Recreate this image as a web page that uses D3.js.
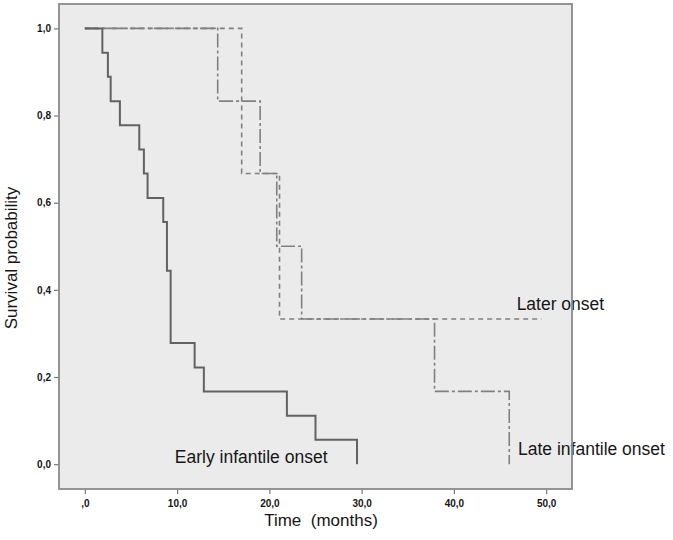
<!DOCTYPE html>
<html>
<head>
<meta charset="utf-8">
<script src="https://cdn.jsdelivr.net/npm/d3@7"></script>
<style>
    body { margin: 0; background: #fff; }
    svg text { font-family: "Liberation Sans", Arial, sans-serif; fill: #161616; }
</style>
</head>
<body>
<div id="chart"></div>
<script>
// Kaplan-Meier steps (time in months, survival probability)
const earlyTimes = [0, 1.9, 2.5, 2.8, 3.8, 5.9, 6.4, 6.8, 8.5, 8.9, 9.3, 11.9, 12.9, 21.9, 25.0, 29.5];
const earlySurv  = [1, 0.944, 0.889, 0.833, 0.778, 0.722, 0.667, 0.611, 0.556, 0.444, 0.278, 0.222, 0.167, 0.111, 0.056, 0];

const lateInfTimes = [0, 14.4, 19.0, 20.8, 23.5, 37.9, 46.0];
const lateInfSurv  = [1, 0.833, 0.667, 0.5, 0.333, 0.167, 0];

const laterTimes = [0, 17.0, 21.1, 49.5];
const laterSurv  = [1, 0.667, 0.333, 0.333];

const xTicks = [0, 10, 20, 30, 40, 50];
const xTickLabels = [",0", "10,0", "20,0", "30,0", "40,0", "50,0"];
const yTicks = [0, 0.2, 0.4, 0.6, 0.8, 1.0];
const yTickLabels = ["0,0", "0,2", "0,4", "0,6", "0,8", "1,0"];

const w = 673, h = 540;
const margin = {top: 4, right: 101, bottom: 51, left: 59};
const width = w - margin.left - margin.right,
      height = h - margin.top - margin.bottom;

function toPairs(times, surv) {
    return times.map((t, i) => [t, surv[i]]);
}

let svg = d3.select("#chart")
    .append("svg")
    .attr("width", w)
    .attr("height", h);

let g = svg.append("g")
    .attr("transform", "translate(" + margin.left + "," + margin.top + ")");

let x = d3.scaleLinear()
    .domain([-2.8, 52.8])
    .range([0, width]);

let y = d3.scaleLinear()
    .domain([-0.057, 1.056])
    .range([height, 0]);

g.append("rect")
    .attr("width", width)
    .attr("height", height)
    .attr("fill", "#ebebeb");

let xAxis = g.append("g")
    .attr("transform", "translate(0," + height + ")")
    .call(d3.axisBottom(x)
        .tickValues(xTicks)
        .tickSize(5)
        .tickPadding(6)
        .tickFormat((d, i) => xTickLabels[i]));

let yAxis = g.append("g")
    .call(d3.axisLeft(y)
        .tickValues(yTicks)
        .tickSize(5)
        .tickPadding(3)
        .tickFormat((d, i) => yTickLabels[i]));

[xAxis, yAxis].forEach(function (a) {
    a.select(".domain").remove();
    a.selectAll(".tick line").attr("stroke", "#777").attr("stroke-width", 1.2);
    a.selectAll(".tick text")
        .style("font-size", "10px")
        .style("font-weight", "bold")
        .attr("fill", "#161616");
});

let line = d3.line()
    .x(d => x(d[0]))
    .y(d => y(d[1]))
    .curve(d3.curveStepAfter);

g.append("path")
    .datum(toPairs(laterTimes, laterSurv))
    .attr("fill", "none")
    .attr("stroke", "#808080")
    .attr("stroke-width", 1.6)
    .style("stroke-dasharray", "5, 4")
    .attr("d", line);

g.append("path")
    .datum(toPairs(lateInfTimes, lateInfSurv))
    .attr("fill", "none")
    .attr("stroke", "#808080")
    .attr("stroke-width", 1.6)
    .style("stroke-dasharray", "14, 3, 3, 3")
    .attr("d", line);

g.append("path")
    .datum(toPairs(earlyTimes, earlySurv))
    .attr("fill", "none")
    .attr("stroke", "#626262")
    .attr("stroke-width", 2)
    .attr("d", line);

// curve labels
g.append("text")
    .attr("x", x(46.8))
    .attr("y", y(0.354))
    .style("font-size", "17.5px")
    .text("Later onset");

g.append("text")
    .attr("x", x(46.95))
    .attr("y", y(0.02))
    .style("font-size", "17.5px")
    .text("Late infantile onset");

g.append("text")
    .attr("x", x(9.75))
    .attr("y", y(0.002))
    .style("font-size", "17.5px")
    .text("Early infantile onset");

g.append("rect")
    .attr("width", width)
    .attr("height", height)
    .attr("fill", "none")
    .attr("stroke", "#8a8a8a")
    .attr("stroke-width", 1.8);

svg.append("text")
    .attr("x", 321)
    .attr("y", 526)
    .attr("text-anchor", "middle")
    .style("font-size", "17px")
    .text("Time  (months)")
    .attr("xml:space", "preserve")
    .style("white-space", "pre");

svg.append("text")
    .attr("transform", "translate(17,258) rotate(-90)")
    .attr("text-anchor", "middle")
    .style("font-size", "17px")
    .text("Survival probability");
</script>
</body>
</html>
